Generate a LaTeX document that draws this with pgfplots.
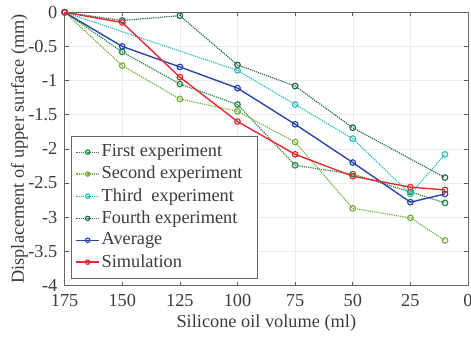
\documentclass[border=0pt]{standalone}
\usepackage{pgfplots}
\pgfplotsset{compat=1.18}
\usepackage{fontspec}
\setmainfont{Liberation Serif}
\definecolor{cfirst}{RGB}{30,135,65}
\definecolor{csecond}{RGB}{120,175,60}
\definecolor{cthird}{RGB}{40,190,190}
\definecolor{cfourth}{RGB}{40,105,75}
\definecolor{cavg}{RGB}{40,70,165}
\definecolor{csim}{RGB}{235,40,50}
\definecolor{txt}{RGB}{60,60,60}
\begin{document}
\fontsize{18.5}{21}\selectfont
\begin{tikzpicture}
\begin{axis}[
  scale only axis,
  width=406bp, height=275bp,
  x dir=reverse,
  xmin=0, xmax=175, ymin=-4, ymax=0,
  xtick={0,25,50,75,100,125,150,175},
  xticklabels={0,25,50,75,100,125,150,175},
  ytick={-4,-3.5,-3,-2.5,-2,-1.5,-1,-0.5,0},
  yticklabels={-4,-3.5,-3,-2.5,-2,-1.5,-1,-0.5,0},
  tick align=inside,
  major tick length=4bp,
  tick style={gray!70!black, line width=0.6pt},
  axis line style={gray!80!black, line width=0.8pt},
  grid=major,
  grid style={gray!15, line width=0.5pt},
  xlabel={Silicone oil volume (ml)},
  ylabel={Displacement of upper surface (mm)},
  label style={text=txt},
  ticklabel style={text=txt},
  xticklabel style={yshift=-3bp},
  yticklabel style={xshift=-1bp},
  xlabel style={yshift=5bp},
  ylabel style={yshift=-12bp},
  every axis plot/.append style={mark=o, mark size=2.8bp, line width=1.2pt, mark options={solid, line width=1.2pt}},
  legend style={at={(0.017,0.027)}, anchor=south west, draw=gray!80!black, line width=0.6pt, font=\fontsize{18.5}{21}\selectfont, text=txt, row sep=2.8bp, inner xsep=4bp, inner ysep=6bp},
  legend cell align=left,
  legend image code/.code={
    \draw[#1] (0cm,0cm) -- (0.8cm,0cm);
    \draw[#1, only marks, mark size=2.2bp, solid] plot coordinates {(0.4cm,0cm)};
  },
]
\addplot[cfirst, densely dotted] coordinates {(175,0) (150,-0.58) (125,-1.05) (100,-1.35) (75,-2.24) (50,-2.37) (25,-2.63) (10,-2.79)};
\addlegendentry{First experiment}
\addplot[csecond, densely dotted] coordinates {(175,0) (150,-0.78) (125,-1.27) (100,-1.45) (75,-1.90) (50,-2.87) (25,-3.01) (10,-3.34)};
\addlegendentry{Second experiment\hspace*{9bp}}
\addplot[cthird, densely dotted] coordinates {(175,0) (100,-0.85) (75,-1.35) (50,-1.85) (25,-2.66) (10,-2.08)};
\addlegendentry{Third\ \ experiment}
\addplot[cfourth, densely dotted] coordinates {(175,0) (150,-0.12) (125,-0.05) (100,-0.77) (75,-1.08) (50,-1.69) (10,-2.42)};
\addlegendentry{Fourth experiment}
\addplot[cavg, line width=1.4pt] coordinates {(175,0) (150,-0.50) (125,-0.80) (100,-1.11) (75,-1.64) (50,-2.20) (25,-2.78) (10,-2.66)};
\addlegendentry{Average}
\addplot[csim, line width=1.4pt] coordinates {(175,0) (150,-0.15) (125,-0.95) (100,-1.60) (75,-2.08) (50,-2.40) (25,-2.56) (10,-2.60)};
\addlegendentry{Simulation}
\coordinate (axr) at (rel axis cs:1,1);
\end{axis}
\coordinate (bbsw) at (current bounding box.south west);
\coordinate (bbne) at (current bounding box.north east);
\pgfresetboundingbox
\useasboundingbox ([xshift=-5bp]bbsw) rectangle ([xshift=3bp]axr |- bbne);
\end{tikzpicture}
\end{document}
